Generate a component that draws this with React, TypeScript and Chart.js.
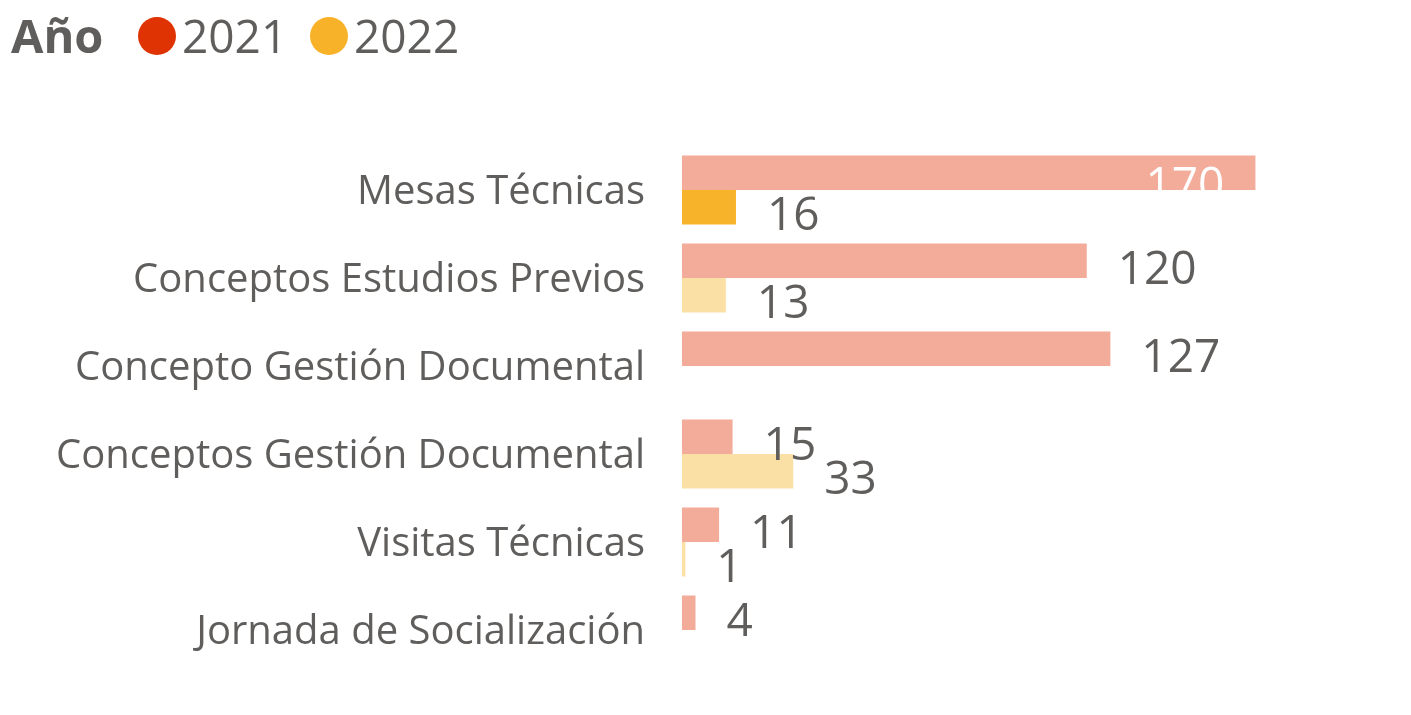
import React, { useEffect, useRef } from "react";
import { Chart, registerables } from "chart.js";

Chart.register(...registerables);

const categories = [
  "Mesas Técnicas",
  "Conceptos Estudios Previos",
  "Concepto Gestión Documental",
  "Conceptos Gestión Documental",
  "Visitas Técnicas",
  "Jornada de Socialización",
];
const series2021 = [170, 120, 127, 15, 11, 4];
const series2022 = [16, 13, null, 33, 1, null];
const seriesNames = ["2021", "2022"];
const legendTitle = "Año";

const TEXT = "#605E5C";
const FONT = "'Open Sans', 'Noto Sans', sans-serif";

const labelPlugin = {
  id: "valueLabels",
  afterDatasetsDraw(chart: any) {
    const ctx = chart.ctx;
    const area = chart.chartArea;
    ctx.save();
    ctx.font = `46px ${FONT}`;
    ctx.textBaseline = "alphabetic";
    chart.data.datasets.forEach((ds: any, di: number) => {
      const meta = chart.getDatasetMeta(di);
      meta.data.forEach((bar: any, i: number) => {
        const v = ds.data[i];
        if (v === null || v === undefined) return;
        const txt = String(v);
        const w = ctx.measureText(txt).width;
        const gap = 31;
        const y = bar.y + 23;
        if (bar.x + gap + w > area.right) {
          ctx.fillStyle = "#FFFFFF";
          ctx.textAlign = "right";
          ctx.save();
          ctx.beginPath();
          ctx.rect(bar.base, bar.y - bar.height / 2, bar.x - bar.base, bar.height);
          ctx.clip();
          ctx.fillText(txt, bar.x - gap, y + 4);
          ctx.restore();
        } else {
          ctx.fillStyle = TEXT;
          ctx.textAlign = "left";
          ctx.fillText(txt, bar.x + gap, y);
        }
      });
    });
    ctx.restore();
  },
};

const legendPlugin = {
  id: "topLegend",
  afterDraw(chart: any) {
    const ctx = chart.ctx;
    ctx.save();
    ctx.textBaseline = "alphabetic";
    ctx.textAlign = "left";
    ctx.fillStyle = TEXT;
    ctx.font = `bold 47px ${FONT}`;
    ctx.fillText(legendTitle, 11, 53);
    const colors = ["#E03303", "#F8B229"];
    const xs = [157, 329];
    ctx.font = `46px ${FONT}`;
    seriesNames.forEach((n, k) => {
      ctx.beginPath();
      ctx.fillStyle = colors[k];
      ctx.arc(xs[k], 36, 19, 0, Math.PI * 2);
      ctx.fill();
      ctx.fillStyle = TEXT;
      ctx.fillText(n, xs[k] + 25, 53);
    });
    ctx.restore();
  },
};

export default function App() {
  const ref = useRef<HTMLCanvasElement>(null);
  useEffect(() => {
    if (!ref.current) return;
    const c2022 = series2022.map((_, i) => (i === 0 ? "#F7B329" : "#FBE0A6"));
    const chart = new Chart(ref.current, {
      type: "bar",
      data: {
        labels: categories,
        datasets: [
          {
            label: seriesNames[0],
            data: series2021,
            backgroundColor: "#F3AC9A",
            categoryPercentage: 0.784,
            barPercentage: 1,
          },
          {
            label: seriesNames[1],
            data: series2022 as any,
            backgroundColor: c2022,
            categoryPercentage: 0.784,
            barPercentage: 1,
          },
        ],
      },
      options: {
        indexAxis: "y",
        responsive: false,
        animation: false,
        devicePixelRatio: 1,
        layout: { padding: { left: 0, right: 105, top: 146, bottom: 41 } },
        plugins: { legend: { display: false }, tooltip: { enabled: false } },
        scales: {
          x: { display: false, min: 0, max: 185 },
          y: {
            grid: { display: false, drawTicks: false },
            border: { display: false },
            ticks: {
              padding: 37,
              labelOffset: 3,
              color: TEXT,
              font: { family: FONT, size: 40 },
            },
            afterFit(scale: any) {
              scale.width = 682;
              scale.paddingTop = 0;
              scale.paddingBottom = 0;
            },
          },
        },
      },
      plugins: [labelPlugin, legendPlugin],
    });
    return () => chart.destroy();
  }, []);
  return (
    <div style={{ position: "fixed", left: 0, top: 0, width: 1411, height: 715, background: "#fff" }}>
      <canvas ref={ref} width={1411} height={715} style={{ display: "block" }} />
    </div>
  );
}
